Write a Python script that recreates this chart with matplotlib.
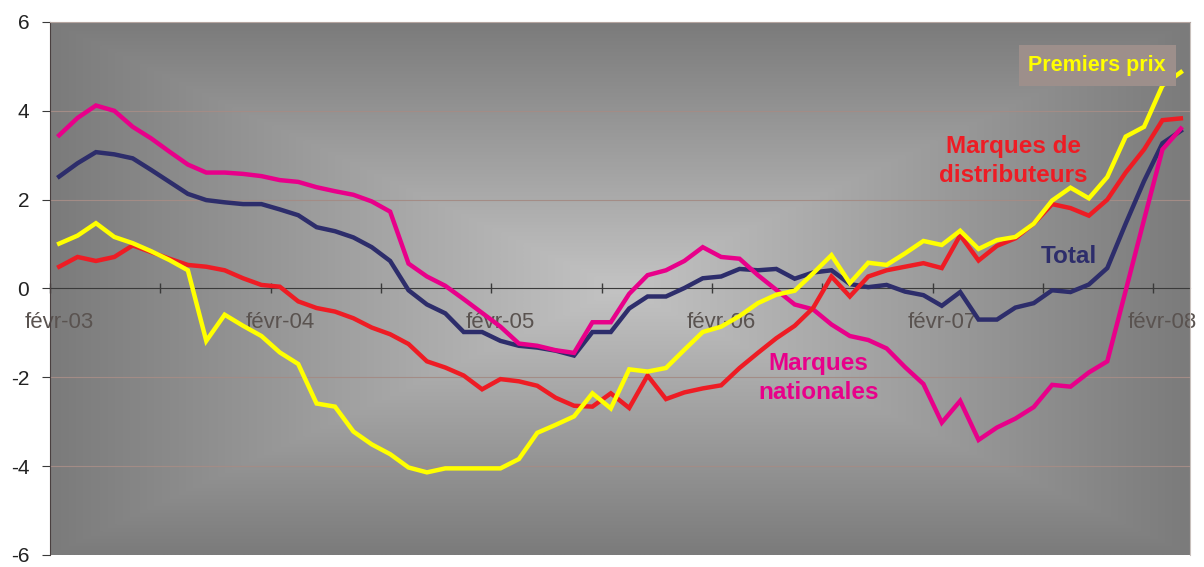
import numpy as np
import matplotlib.pyplot as plt
from matplotlib.colors import LinearSegmentedColormap

# monthly points, févr-03 .. mars-08
total = [2.52, 2.82, 3.07, 3.02, 2.93, 2.67, 2.40, 2.13, 1.99, 1.94,
         1.90, 1.90, 1.78, 1.65, 1.38, 1.29, 1.15, 0.93, 0.62, -0.04,
         -0.36, -0.56, -0.98, -0.98, -1.18, -1.29, -1.33, -1.40, -1.51, -0.98,
         -0.98, -0.45, -0.18, -0.18, 0.01, 0.23, 0.27, 0.44, 0.41, 0.44,
         0.22, 0.36, 0.41, 0.10, 0.03, 0.08, -0.07, -0.15, -0.39, -0.08,
         -0.70, -0.70, -0.43, -0.33, -0.04, -0.08, 0.09, 0.46, 1.46, 2.42,
         3.27, 3.55]
nationales = [3.45, 3.84, 4.12, 4.00, 3.64, 3.38, 3.08, 2.79, 2.61, 2.61,
              2.58, 2.53, 2.44, 2.40, 2.28, 2.19, 2.11, 1.96, 1.73, 0.56,
              0.27, 0.06, -0.24, -0.55, -0.86, -1.24, -1.29, -1.39, -1.45, -0.76,
              -0.76, -0.12, 0.30, 0.41, 0.62, 0.93, 0.71, 0.67, 0.30, -0.03,
              -0.36, -0.47, -0.81, -1.07, -1.16, -1.35, -1.77, -2.15, -3.02, -2.53,
              -3.41, -3.13, -2.93, -2.67, -2.17, -2.21, -1.89, -1.64, -0.05, 1.55,
              3.13, 3.60]
distributeurs = [0.49, 0.71, 0.62, 0.71, 0.97, 0.82, 0.67, 0.53, 0.49, 0.41,
                 0.23, 0.08, 0.04, -0.29, -0.44, -0.52, -0.67, -0.88, -1.03, -1.25,
                 -1.64, -1.78, -1.96, -2.27, -2.04, -2.09, -2.19, -2.46, -2.64, -2.66,
                 -2.36, -2.69, -1.96, -2.49, -2.34, -2.25, -2.18, -1.79, -1.45, -1.12,
                 -0.84, -0.44, 0.27, -0.18, 0.27, 0.41, 0.49, 0.57, 0.46, 1.20,
                 0.63, 0.96, 1.13, 1.46, 1.90, 1.81, 1.64, 2.00, 2.61, 3.13,
                 3.79, 3.83]
premiers_prix = [1.01, 1.19, 1.47, 1.16, 1.02, 0.84, 0.64, 0.41, -1.18, -0.59,
                 -0.84, -1.07, -1.44, -1.70, -2.59, -2.66, -3.22, -3.51, -3.73, -4.03,
                 -4.14, -4.05, -4.05, -4.05, -4.05, -3.84, -3.25, -3.07, -2.88, -2.36,
                 -2.70, -1.82, -1.87, -1.79, -1.38, -0.98, -0.86, -0.62, -0.33, -0.14,
                 -0.05, 0.34, 0.75, 0.12, 0.58, 0.53, 0.79, 1.07, 0.98, 1.30,
                 0.89, 1.09, 1.16, 1.46, 1.98, 2.27, 2.03, 2.51, 3.42, 3.64,
                 4.57, 4.87]
month_labels = ['févr-03', 'févr-04', 'févr-05', 'févr-06', 'févr-07', 'févr-08']
y_ticks = [-6, -4, -2, 0, 2, 4, 6]

plt.rcParams['font.family'] = ['Liberation Sans', 'DejaVu Sans']

fig = plt.figure(figsize=(12.04, 5.67), dpi=100)
ax = fig.add_axes([0.0415, 0.0212, 0.9469, 0.9400])

n = len(total)
x = np.arange(n)

# grey "from center" gradient background
u = np.linspace(-1, 1, 400)
uu, vv = np.meshgrid(u, u)
d = np.maximum(np.abs(uu), np.abs(vv))
cmap = LinearSegmentedColormap.from_list('bg', ['#c3c3c3', '#7b7b7b'])
ax.imshow(d, extent=(0, 1, 0, 1), transform=ax.transAxes, cmap=cmap,
          aspect='auto', zorder=0, interpolation='bilinear')

for yv in [-4, -2, 2, 4]:
    ax.axhline(yv, color='#a38c86', lw=0.8, zorder=1)

ax.plot(x, total, color='#2d2d6b', lw=3.2, zorder=3, solid_joinstyle='miter')
ax.plot(x, nationales, color='#e8008a', lw=3.2, zorder=3, solid_joinstyle='miter')
ax.plot(x, distributeurs, color='#ee1c24', lw=3.2, zorder=3, solid_joinstyle='miter')
ax.plot(x, premiers_prix, color='#ffff00', lw=3.2, zorder=3, solid_joinstyle='miter')

ax.set_xlim(-0.5, n - 0.5)
ax.set_ylim(-6, 6)

ax.spines['bottom'].set_position(('data', 0))
ax.spines['bottom'].set_color('#3a3a3a')
ax.spines['bottom'].set_zorder(2)
ax.spines['left'].set_color('#4a4040')
ax.spines['top'].set_color('#b5a5a0')
ax.spines['right'].set_color('#c8c0bc')

ax.set_xticks(np.arange(-0.5, n, 6))
ax.set_xticklabels([])
ax.tick_params(axis='x', which='major', direction='inout', length=7,
               color='#3a3a3a', width=1)
ax.set_xticks(np.arange(0, n, 12), minor=True)
ax.set_xticklabels(month_labels, minor=True)
ax.tick_params(axis='x', which='minor', length=0, pad=17, labelsize=16,
               labelcolor='#5a5350')

ax.set_yticks(y_ticks)
ax.set_yticklabels([str(v) for v in y_ticks])
ax.tick_params(axis='y', direction='out', length=6, pad=9, labelsize=15,
               labelcolor='#222222', color='#3a3a3a')

ax.text(56.45, 5.02, 'Premiers prix', color='#ffff00', fontsize=15.5,
        fontweight='bold', ha='center', va='center', zorder=5,
        bbox=dict(boxstyle='square,pad=0.45', fc='#9d8f8b', ec='none'))
ax.text(51.9, 2.87, 'Marques de\ndistributeurs', color='#ee1c24', fontsize=17.5,
        fontweight='bold', ha='center', va='center', linespacing=1.35, zorder=5)
ax.text(54.9, 0.71, 'Total', color='#2d2d6b', fontsize=17.5,
        fontweight='bold', ha='center', va='center', zorder=5)
ax.text(41.3, -2.02, 'Marques\nnationales', color='#e8008a', fontsize=17.5,
        fontweight='bold', ha='center', va='center', linespacing=1.35, zorder=5)

fig.savefig('out.png', dpi=100)
